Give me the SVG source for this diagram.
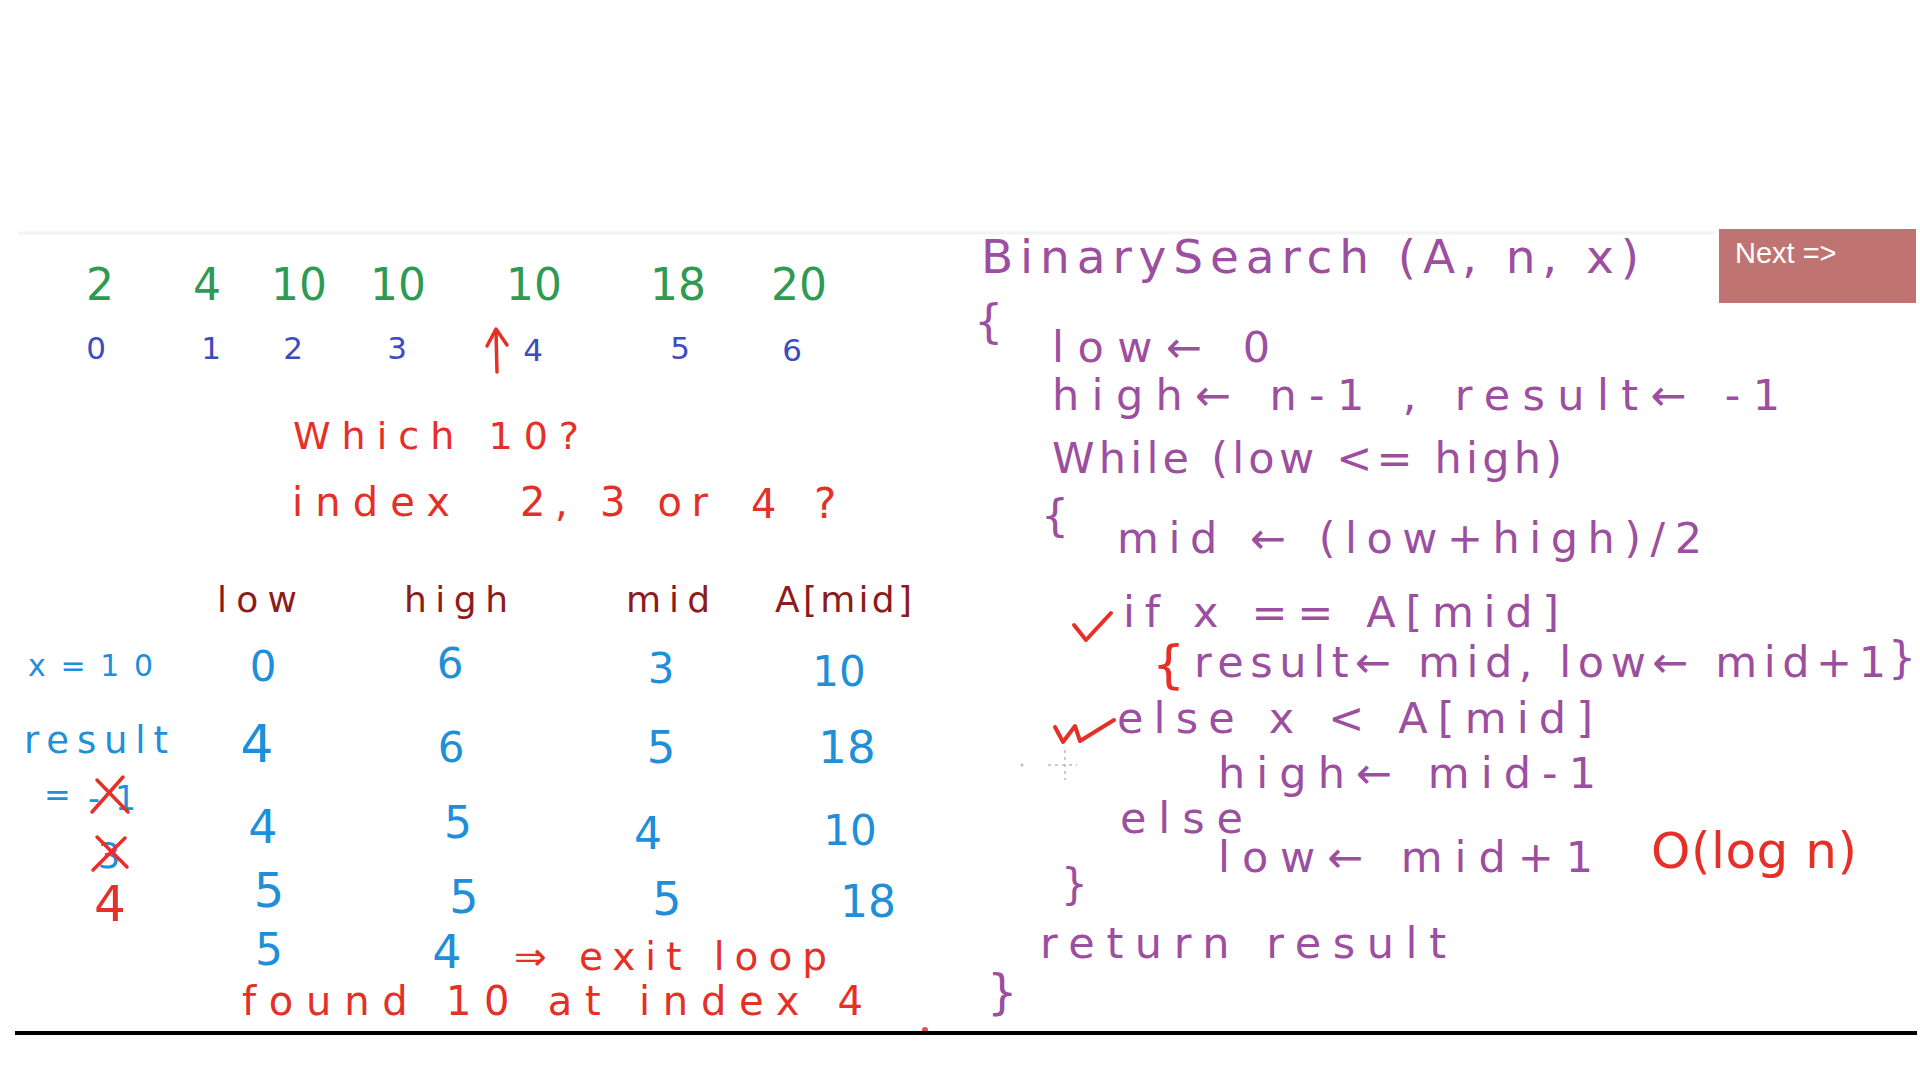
<svg xmlns="http://www.w3.org/2000/svg" width="1920" height="1080" viewBox="0 0 1920 1080">
<style>
text{font-family:"DejaVu Sans","Liberation Sans",sans-serif}
.g{fill:#2f9a52;font-size:44px}
.ix{fill:#3b4cc0;font-size:31px}
.r{fill:#e53027}
.hd{fill:#8e1b1b;font-size:36px}
.b{fill:#1f8fd9}
.p{fill:#9c4fa0}
.code{fill:#9c4fa0;font-size:43px}
.ink{fill:none;stroke-linecap:round;stroke-linejoin:round}
.mid{text-anchor:middle}
.btn{font-family:"Liberation Sans",Arial,sans-serif}
</style>
<rect width="1920" height="1080" fill="#ffffff"/>
<line x1="18" y1="233" x2="1715" y2="233" stroke="#f3f3f3" stroke-width="3"/>

<g id="array-values">
<text class="g mid" x="100" y="300">2</text>
<text class="g mid" x="207" y="300">4</text>
<text class="g mid" x="299" y="300">10</text>
<text class="g mid" x="398" y="300">10</text>
<text class="g mid" x="534" y="300">10</text>
<text class="g mid" x="678" y="300">18</text>
<text class="g mid" x="799" y="300">20</text>
</g>
<g id="array-indices">
<text class="ix mid" x="96" y="359">0</text>
<text class="ix mid" x="211" y="359">1</text>
<text class="ix mid" x="293" y="359">2</text>
<text class="ix mid" x="397" y="359">3</text>
<text class="ix mid" x="533" y="361">4</text>
<text class="ix mid" x="680" y="359">5</text>
<text class="ix mid" x="792" y="361">6</text>
</g>
<g id="pointer-arrow" class="ink" stroke="#e53027" stroke-width="3.5">
<line x1="497" y1="372" x2="496" y2="331"/>
<polyline points="487,346 496,329 507,345"/>
</g>

<g id="question">
<text class="r" x="293" y="449" font-size="38" textLength="286" lengthAdjust="spacing">Which  10?</text>
<text class="r" x="292" y="516" font-size="40" textLength="158" lengthAdjust="spacing">index</text>
<text class="r" x="520" y="516" font-size="40" textLength="188" lengthAdjust="spacing">2, 3 or</text>
<text class="r" x="751" y="518" font-size="40">4</text>
<text class="r" x="814" y="518" font-size="42">?</text>
</g>

<g id="table-header">
<text class="hd" x="217" y="612" textLength="80" lengthAdjust="spacing">low</text>
<text class="hd" x="404" y="612" textLength="104" lengthAdjust="spacing">high</text>
<text class="hd" x="626" y="612" textLength="84" lengthAdjust="spacing">mid</text>
<text class="hd" x="775" y="612" textLength="137" lengthAdjust="spacing">A[mid]</text>
</g>

<g id="table-labels">
<text class="b" x="28" y="676" font-size="30" textLength="125" lengthAdjust="spacing">x=10</text>
<text class="b" x="24" y="753" font-size="37" textLength="144" lengthAdjust="spacing">result</text>
<text class="b" x="44" y="806" font-size="32">=</text>
<text class="b" x="88" y="810" font-size="33" textLength="48" lengthAdjust="spacing">-1</text>
<g class="ink" stroke="#e53027" stroke-width="3.5">
<line x1="97" y1="780" x2="128" y2="812"/>
<line x1="123" y1="777" x2="92" y2="812"/>
</g>
<text class="b mid" x="109" y="868" font-size="36">3</text>
<g class="ink" stroke="#e53027" stroke-width="3.5">
<line x1="97" y1="837" x2="127" y2="867"/>
<line x1="125" y1="838" x2="93" y2="870"/>
</g>
<text class="r mid" x="110" y="921" font-size="50">4</text>
</g>

<g id="table-rows" class="b" font-size="42">
<text class="mid" x="263" y="681">0</text>
<text class="mid" x="450" y="678">6</text>
<text class="mid" x="661" y="683">3</text>
<text class="mid" x="839" y="686">10</text>

<text class="mid" x="257" y="762" font-size="52">4</text>
<text class="mid" x="451" y="762">6</text>
<text class="mid" x="661" y="763" font-size="45">5</text>
<text class="mid" x="847" y="763" font-size="45">18</text>

<text class="mid" x="263" y="843" font-size="46">4</text>
<text class="mid" x="458" y="838" font-size="44">5</text>
<text class="mid" x="648" y="849" font-size="44">4</text>
<text class="mid" x="850" y="845">10</text>

<text class="mid" x="269" y="907" font-size="48">5</text>
<text class="mid" x="464" y="913" font-size="46">5</text>
<text class="mid" x="667" y="915" font-size="46">5</text>
<text class="mid" x="868" y="917" font-size="44">18</text>

<text class="mid" x="269" y="965" font-size="44">5</text>
<text class="mid" x="447" y="968" font-size="46">4</text>
</g>

<g id="conclusion">
<text class="r" x="514" y="970" font-size="39" textLength="313" lengthAdjust="spacing">⇒ exit  loop</text>
<text class="r" x="242" y="1015" font-size="40" textLength="621" lengthAdjust="spacing">found 10  at index 4</text>
</g>

<g id="pseudocode">
<text class="p" x="981" y="273" font-size="47" textLength="658" lengthAdjust="spacing">BinarySearch (A, n, x)</text>
<text class="p" x="974" y="337" font-size="46">{</text>
<text class="code" x="1052" y="362" textLength="218" lengthAdjust="spacing">low← 0</text>
<text class="code" x="1052" y="410" textLength="728" lengthAdjust="spacing">high← n-1 , result← -1</text>
<text class="code" x="1052" y="473" textLength="510" lengthAdjust="spacing">While (low &lt;= high)</text>
<text class="p" x="1041" y="531" font-size="44">{</text>
<text class="code" x="1117" y="553" textLength="585" lengthAdjust="spacing">mid ←  (low+high)/2</text>
<text class="code" x="1123" y="627" textLength="436" lengthAdjust="spacing">if  x == A[mid]</text>
<text class="r" x="1152" y="682" font-size="52">{</text>
<text class="code" x="1194" y="677" textLength="692" lengthAdjust="spacing">result← mid, low← mid+1</text>
<text class="p" x="1888" y="673" font-size="44">}</text>
<text class="code" x="1117" y="733" textLength="476" lengthAdjust="spacing">else  x &lt; A[mid]</text>
<text class="code" x="1218" y="788" textLength="378" lengthAdjust="spacing">high← mid-1</text>
<text class="code" x="1120" y="833" textLength="123" lengthAdjust="spacing">else</text>
<text class="code" x="1218" y="872" textLength="375" lengthAdjust="spacing">low← mid+1</text>
<text class="p" x="1061" y="899" font-size="42">}</text>
<text class="code" x="1040" y="958" textLength="406" lengthAdjust="spacing">return  result</text>
<text class="p" x="987" y="1009" font-size="48">}</text>
</g>

<g id="annotations">
<text class="r" x="1651" y="868" font-size="50" textLength="206" lengthAdjust="spacing">O(log n)</text>
<path class="ink" stroke="#e53027" stroke-width="4" d="M1074,625 L1086,640 L1111,613"/>
<path class="ink" stroke="#e53027" stroke-width="4" d="M1055,727 L1063,742 L1075,726 L1080,741 L1114,720"/>
<g stroke="#bbbbbb" stroke-width="1.5" stroke-dasharray="3,4">
<line x1="1048" y1="765" x2="1077" y2="765"/>
<line x1="1065" y1="750" x2="1065" y2="780"/>
</g>
<circle cx="1022" cy="765" r="1.5" fill="#bbbbbb"/>
<circle cx="925" cy="1030" r="3" fill="#e05050"/>
</g>

<line id="baseline-rule" x1="15" y1="1033" x2="1917" y2="1033" stroke="#000000" stroke-width="4"/>

<g id="next-button">
<rect x="1719" y="229" width="197" height="74" fill="#c07472"/>
<text class="btn" x="1735" y="263" font-size="29" fill="#ffffff">Next =&gt;</text>
</g>
</svg>
